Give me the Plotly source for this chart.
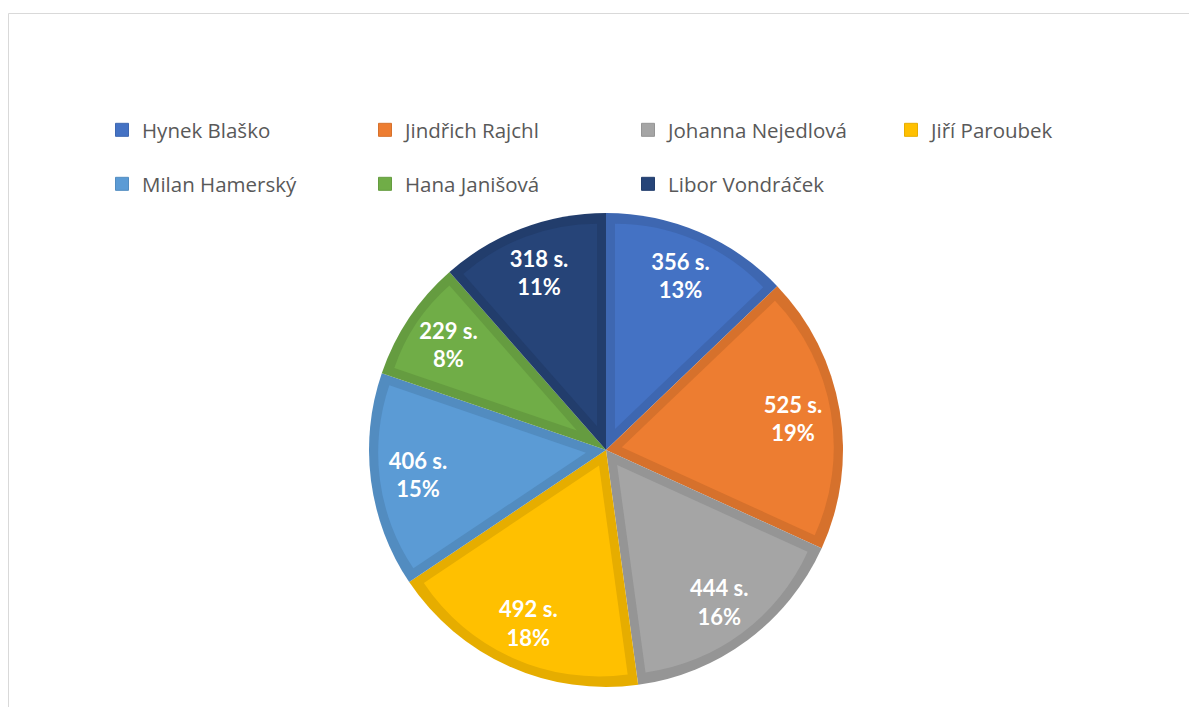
import math
import plotly.graph_objects as go

# ---- data ----
names = ["Hynek Blaško", "Jindřich Rajchl", "Johanna Nejedlová", "Jiří Paroubek",
         "Milan Hamerský", "Hana Janišová", "Libor Vondráček"]
seconds = [356, 525, 444, 492, 406, 229, 318]
fill_colors = ["#4472C4", "#ED7D31", "#A5A5A5", "#FFC000", "#5B9BD5", "#70AD47", "#264478"]
edge_colors = ["#3E67B1", "#D6712C", "#959595", "#E6AD00", "#528CC0", "#659C40", "#223D6C"]

# ---- geometry (pixels) ----
W, H = 1189, 707
CX, CY, R = 606, 450, 237
D = 9  # inner border thickness
TRANSPARENT = "rgba(0,0,0,0)"


def dom(half):
    return dict(x=[(CX - half) / W, (CX + half) / W],
                y=[1 - (CY + half) / H, 1 - (CY - half) / H])


total = sum(seconds)
n = len(names)

fig = go.Figure()

# base layer: border colours
fig.add_trace(go.Pie(
    labels=names, values=seconds, sort=False, direction="clockwise", rotation=0,
    marker=dict(colors=edge_colors, line=dict(width=0)),
    textinfo="none", hoverinfo="skip", domain=dom(R), showlegend=False))

# inset fills (one per slice, pulled so that an inner border remains)
for k in range(n):
    half = math.pi * seconds[k] / total
    s = D / math.sin(half)
    p = s / (R - D - s)
    cols = [TRANSPARENT] * n
    cols[k] = fill_colors[k]
    pulls = [0] * n
    pulls[k] = p
    fig.add_trace(go.Pie(
        labels=names, values=seconds, sort=False, direction="clockwise", rotation=0,
        marker=dict(colors=cols, line=dict(width=0)), pull=pulls,
        textinfo="none", hoverinfo="skip", domain=dom(R - D), showlegend=False))

# data labels
fig.add_trace(go.Pie(
    labels=names, values=seconds, sort=False, direction="clockwise", rotation=0, hole=0.6,
    marker=dict(colors=[TRANSPARENT] * n, line=dict(width=0)),
    texttemplate="%{value} s.<br>%{percent:.0%}", textposition="inside",
    insidetextorientation="horizontal",
    insidetextfont=dict(family="Lato", size=22, color="white", weight="bold"),
    hoverinfo="label+value+percent", domain=dom(R), showlegend=False))

# legend entries
for i in range(n):
    fig.add_trace(go.Scatter(
        x=[None], y=[None], mode="markers", name=names[i],
        marker=dict(symbol="square", size=13, color=fill_colors[i],
                    line=dict(width=1, color=edge_colors[i])),
        legend="legend" if i < 4 else "legend2", hoverinfo="skip", showlegend=True))

legend_common = dict(orientation="h", xanchor="left", yanchor="middle",
                     entrywidth=218, entrywidthmode="pixels",
                     font=dict(family="Open Sans", size=20.5, color="#595959"),
                     bgcolor="rgba(0,0,0,0)", borderwidth=0, traceorder="normal")

fig.update_layout(
    width=W, height=H,
    margin=dict(l=0, r=0, t=0, b=0),
    paper_bgcolor="white", plot_bgcolor="white",
    xaxis=dict(visible=False), yaxis=dict(visible=False),
    legend=dict(x=102 / W, y=1 - 130 / H, **legend_common),
    legend2=dict(x=102 / W, y=1 - 184 / H, **legend_common),
    shapes=[dict(type="rect", xref="paper", yref="paper",
                 x0=8.5 / W, x1=1.2, y0=-0.2, y1=1 - 13.5 / H,
                 line=dict(color="#D9D9D9", width=1), layer="below")],
)

fig.write_html("out.html", config={"displayModeBar": False},
               post_script="document.body.style.margin='0';document.body.style.overflow='hidden';")
